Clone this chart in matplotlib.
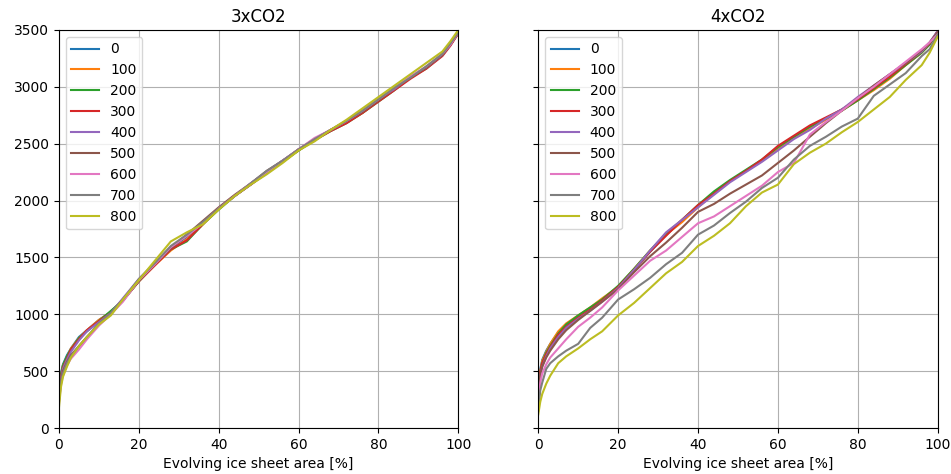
import numpy as np
import matplotlib
matplotlib.use('Agg')
import matplotlib.pyplot as plt

area = [0, 0.5, 1, 2, 3, 5, 7, 10, 13, 16, 20, 24, 28, 32, 36, 40, 44, 48,
        52, 56, 60, 64, 68, 72, 76, 80, 84, 88, 92, 96, 98, 100]

labels = ['0', '100', '200', '300', '400', '500', '600', '700', '800']

# 3xCO2 runs
co2x3_0 = [300, 480, 560, 640, 700, 800, 860, 950, 1020, 1130, 1300, 1440, 1580, 1680, 1800, 1930,
           2040, 2150, 2250, 2350, 2440, 2540, 2620, 2690, 2780, 2880, 2980, 3080, 3170, 3280, 3370, 3480]
co2x3_100 = [280, 460, 550, 620, 700, 790, 860, 950, 1020, 1130, 1290, 1430, 1560, 1660, 1790, 1930,
             2040, 2140, 2240, 2340, 2440, 2530, 2620, 2690, 2770, 2880, 2980, 3080, 3170, 3280, 3370, 3480]
co2x3_200 = [320, 470, 550, 630, 690, 790, 850, 940, 1030, 1120, 1290, 1440, 1570, 1640, 1790, 1920,
             2040, 2140, 2240, 2340, 2440, 2530, 2610, 2680, 2770, 2870, 2970, 3080, 3160, 3280, 3370, 3470]
co2x3_300 = [300, 450, 530, 610, 690, 780, 860, 940, 1010, 1120, 1290, 1430, 1570, 1650, 1790, 1930,
             2040, 2140, 2250, 2340, 2450, 2530, 2610, 2680, 2770, 2870, 2970, 3070, 3160, 3270, 3360, 3470]
co2x3_400 = [260, 430, 520, 600, 670, 770, 850, 930, 1010, 1140, 1310, 1450, 1590, 1690, 1800, 1930,
             2040, 2140, 2250, 2350, 2450, 2540, 2620, 2700, 2790, 2890, 2980, 3090, 3170, 3280, 3370, 3480]
co2x3_500 = [250, 420, 500, 580, 640, 720, 800, 910, 1000, 1120, 1290, 1440, 1580, 1700, 1820, 1940,
             2050, 2150, 2260, 2350, 2450, 2540, 2620, 2700, 2780, 2880, 2990, 3080, 3170, 3280, 3370, 3480]
co2x3_600 = [220, 380, 460, 550, 610, 690, 780, 900, 1000, 1110, 1300, 1440, 1590, 1690, 1800, 1930,
             2040, 2150, 2250, 2350, 2450, 2550, 2620, 2700, 2790, 2890, 2990, 3090, 3180, 3290, 3370, 3480]
co2x3_700 = [230, 400, 480, 570, 630, 720, 800, 920, 1010, 1130, 1310, 1450, 1600, 1700, 1810, 1930,
             2040, 2150, 2260, 2350, 2450, 2540, 2620, 2700, 2790, 2890, 2990, 3080, 3180, 3290, 3380, 3480]
co2x3_800 = [180, 360, 450, 540, 620, 720, 800, 910, 990, 1130, 1300, 1470, 1640, 1720, 1790, 1920,
             2040, 2140, 2230, 2330, 2440, 2520, 2620, 2710, 2810, 2910, 3010, 3110, 3210, 3310, 3400, 3500]

# 4xCO2 runs
co2x4_0 = [320, 520, 600, 680, 740, 840, 910, 980, 1050, 1130, 1240, 1390, 1550, 1700, 1820, 1950,
           2060, 2170, 2260, 2350, 2460, 2560, 2640, 2720, 2800, 2890, 2990, 3090, 3200, 3310, 3380, 3490]
co2x4_100 = [300, 500, 590, 670, 740, 850, 920, 990, 1060, 1140, 1240, 1400, 1560, 1700, 1810, 1940,
             2060, 2170, 2260, 2350, 2450, 2550, 2630, 2710, 2790, 2880, 2970, 3070, 3190, 3300, 3380, 3480]
co2x4_200 = [300, 480, 570, 660, 720, 830, 910, 990, 1060, 1130, 1250, 1400, 1560, 1710, 1830, 1960,
             2080, 2180, 2270, 2360, 2470, 2560, 2650, 2720, 2790, 2880, 2980, 3080, 3190, 3300, 3370, 3480]
co2x4_300 = [320, 490, 570, 650, 710, 820, 890, 970, 1040, 1120, 1240, 1390, 1550, 1690, 1830, 1960,
             2060, 2170, 2260, 2360, 2480, 2570, 2660, 2730, 2800, 2890, 2990, 3090, 3200, 3310, 3380, 3490]
co2x4_400 = [280, 460, 540, 630, 700, 800, 880, 960, 1030, 1110, 1230, 1390, 1560, 1720, 1830, 1940,
             2050, 2160, 2250, 2340, 2440, 2540, 2620, 2720, 2800, 2910, 3010, 3110, 3210, 3310, 3390, 3490]
co2x4_500 = [300, 470, 540, 620, 680, 780, 860, 950, 1030, 1110, 1220, 1370, 1510, 1630, 1760, 1900,
             1970, 2060, 2140, 2220, 2330, 2440, 2560, 2680, 2790, 2900, 3010, 3110, 3210, 3320, 3390, 3480]
co2x4_600 = [250, 400, 480, 560, 620, 700, 780, 890, 970, 1060, 1210, 1340, 1470, 1560, 1680, 1800,
             1860, 1950, 2040, 2130, 2250, 2330, 2580, 2690, 2790, 2900, 3000, 3110, 3220, 3330, 3390, 3460]
co2x4_700 = [150, 330, 400, 520, 570, 630, 680, 740, 880, 970, 1130, 1220, 1320, 1440, 1540, 1700,
             1780, 1890, 1990, 2110, 2200, 2360, 2480, 2560, 2650, 2720, 2920, 3020, 3120, 3270, 3330, 3460]
co2x4_800 = [120, 230, 300, 390, 460, 570, 630, 700, 780, 850, 990, 1100, 1230, 1360, 1460, 1600,
             1690, 1800, 1950, 2070, 2140, 2320, 2420, 2500, 2600, 2690, 2800, 2910, 3060, 3190, 3300, 3440]

runs_x3 = [co2x3_0, co2x3_100, co2x3_200, co2x3_300, co2x3_400,
           co2x3_500, co2x3_600, co2x3_700, co2x3_800]
runs_x4 = [co2x4_0, co2x4_100, co2x4_200, co2x4_300, co2x4_400,
           co2x4_500, co2x4_600, co2x4_700, co2x4_800]

fig, axes = plt.subplots(1, 2, figsize=(9.51, 4.74), dpi=100, sharey=True)
fig.subplots_adjust(left=0.062, right=0.986, bottom=0.097, top=0.937, wspace=0.2)

for ax, runs, title in zip(axes, [runs_x3, runs_x4], ['3xCO2', '4xCO2']):
    for y, lab in zip(runs, labels):
        ax.plot(area, y, label=lab)
    ax.set_xlim(0, 100)
    ax.set_ylim(0, 3500)
    ax.grid(True)
    ax.set_title(title)
    ax.set_xlabel('Evolving ice sheet area [%]')
    ax.legend(loc='upper left')

fig.savefig('out.png')
